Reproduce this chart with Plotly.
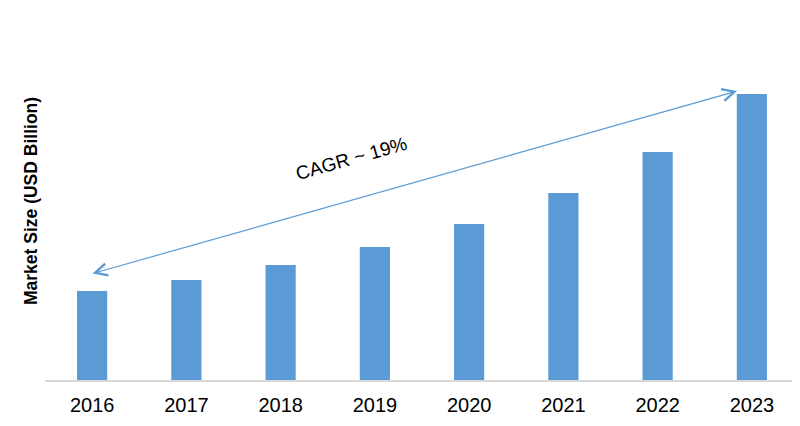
import plotly.graph_objects as go

years = ["2016", "2017", "2018", "2019", "2020", "2021", "2022", "2023"]
market_size = [89, 100, 115, 133, 156, 187, 228, 286]

bar_color = "#5B9BD5"
W, H = 800, 426
OFF = 8  # default page body margin
# plot area in screen pixels: x 45..799, y 20..380
L = 45 - OFF
T = 20 - OFF
R = W - (799 - OFF)
B = H - (380 - OFF)
PW = W - L - R
PH = H - T - B

fig = go.Figure(go.Bar(x=years, y=market_size, marker_color=bar_color,
                       marker_line_width=0))

def px_x(p):
    return (p - 45) / PW

def px_y(p):
    return (380 - p) / PH

fig.update_layout(
    width=W, height=H,
    margin=dict(l=L, r=R, t=T, b=B),
    plot_bgcolor="white", paper_bgcolor="white",
    bargap=0.68,
    showlegend=False,
    font=dict(family="Liberation Sans, Arial, sans-serif", color="#000000"),
    xaxis=dict(showline=True, linecolor="#D9D9D9", linewidth=1.5,
               showgrid=False, ticks="", tickfont=dict(size=20, color="#000000"),
               ticklabelstandoff=6),
    yaxis=dict(range=[0, 360], visible=False, showgrid=False),
)

# y-axis title
fig.add_annotation(text="<b>Market Size (USD Billion)</b>", textangle=-90,
                   xref="paper", yref="paper", x=px_x(31), y=px_y(201),
                   xanchor="center", yanchor="middle", showarrow=False,
                   font=dict(size=17.5, color="#000000"))

# double-headed CAGR arrow
fig.add_annotation(x=px_x(737), y=px_y(91), ax=px_x(91), ay=px_y(274),
                   xref="x domain", yref="y domain", axref="x domain", ayref="y domain",
                   text="", showarrow=True, arrowside="end+start",
                   arrowhead=5, startarrowhead=5, arrowsize=2, startarrowsize=2,
                   arrowwidth=1.2, arrowcolor=bar_color)

fig.add_annotation(text="CAGR ~ 19%", textangle=-15.8,
                   xref="paper", yref="paper", x=px_x(351), y=px_y(158),
                   xanchor="center", yanchor="middle", showarrow=False,
                   font=dict(size=19, color="#000000"))

fig.write_html("out.html")
